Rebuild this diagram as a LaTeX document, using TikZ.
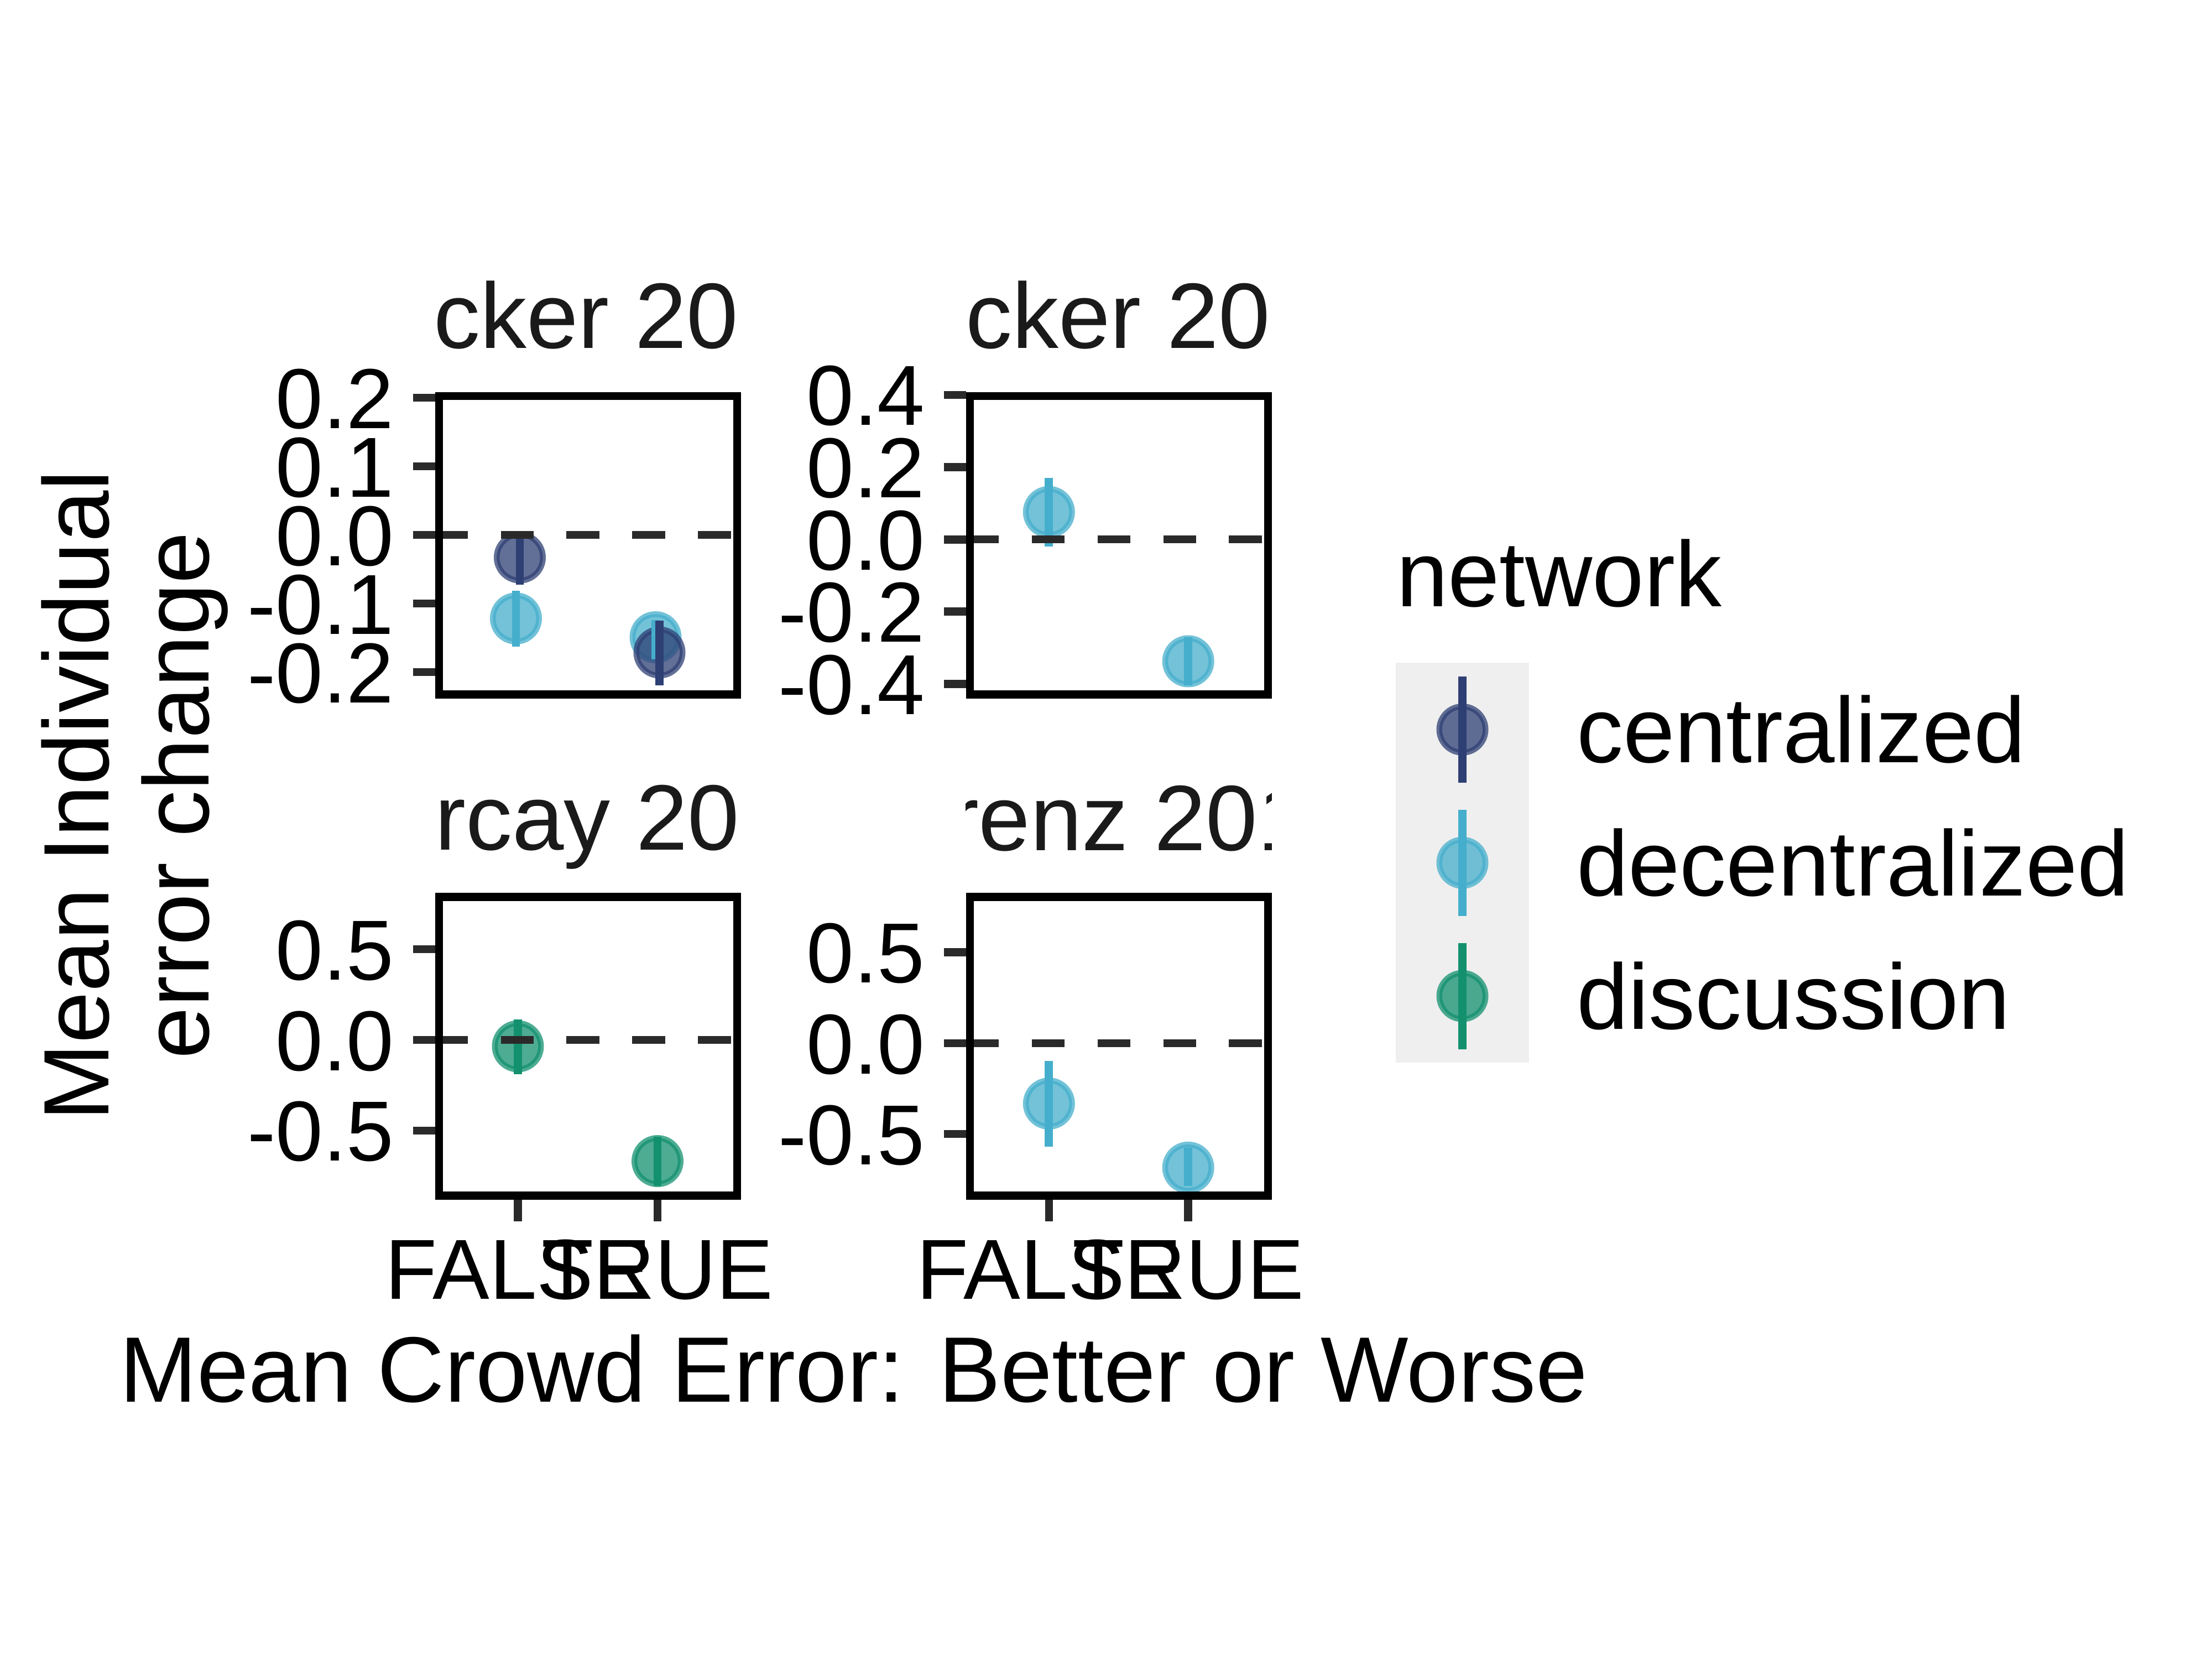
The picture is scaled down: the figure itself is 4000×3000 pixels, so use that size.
\documentclass[tikz,border=0pt]{standalone}
\usepackage{fontspec}
\setmainfont{Liberation Sans}

\definecolor{centcol}{HTML}{2E3F74}
\definecolor{decentcol}{HTML}{45AECC}
\definecolor{disccol}{HTML}{13916F}
\definecolor{tickgray}{HTML}{2A2A2A}
\definecolor{stripgray}{HTML}{1A1A1A}
\definecolor{keygray}{HTML}{EFEFEF}

\newcommand{\ticksize}{\fontsize{15.4}{18}\selectfont}
\newcommand{\labelsize}{\fontsize{16.8}{20}\selectfont}

% point (colour, x, y) and its error bar (colour, x, low, high)
\newcommand{\crowddot}[3]{%
  \fill[#1, opacity=0.75] (#2,#3) circle (4.18pt);
  \draw[#1, opacity=0.75, line width=1.04pt] (#2,#3) circle (4.18pt);
}
\newcommand{\crowdbar}[4]{\draw[#1, errbar] (#2,#3) -- (#2,#4);}

\tikzset{
  panelbox/.style = {draw=black, line width=1.44pt},
  tickmark/.style = {draw=tickgray, line width=1.45pt},
  zeroline/.style = {draw=tickgray, line width=1.4pt, dash pattern=on 5.95pt off 5.95pt},
  ticklabel/.style = {font=\ticksize, inner sep=0pt, anchor=base east},
  xlabel/.style = {font=\ticksize, inner sep=0pt, anchor=base},
  striplabel/.style = {font=\labelsize, text=stripgray, inner sep=0pt, anchor=base west},
  titlelabel/.style = {font=\labelsize, inner sep=0pt, anchor=base},
  keylabel/.style = {font=\labelsize, inner sep=0pt, anchor=base west},
  errbar/.style = {line width=1.47pt}
}

\begin{document}
\begin{tikzpicture}[x=0.1pt, y=-0.1pt]

    \useasboundingbox[fill=white] (0,0) rectangle (4000,3000);

    %% Strip titles (clipped to the panel width)
    \begin{scope}
      \clip (786.5,450) rectangle (1340,705);
      \node[striplabel] (strip1) at (782.5,629) {cker 20};
    \end{scope}
    \begin{scope}
      \clip (1746.5,450) rectangle (2300,705);
      \node[striplabel] (strip2) at (1744.5,629) {cker 20};
    \end{scope}
    \begin{scope}
      \clip (786.5,1350) rectangle (1340,1610);
      \node[striplabel] (strip3) at (784.5,1536) {rcay 20};
    \end{scope}
    \begin{scope}
      \clip (1746.5,1350) rectangle (2299,1610);
      \node[striplabel] (strip4) at (1712,1537) {renz 201};
    \end{scope}

    %% Y axes
    \foreach \v/\y [count=\i] in {0.2/719, 0.1/843, 0.0/967, -0.1/1091, -0.2/1215} {
      \draw[tickmark] (746.5,\y) -- (786.5,\y);
      \node[ticklabel] (ya\i) at (714.5,\y+55) {\v};
    }
    \foreach \v/\y [count=\i] in {0.4/713.8, 0.2/844.4, 0.0/975.4, -0.2/1105.6, -0.4/1236.4} {
      \draw[tickmark] (1706.5,\y) -- (1746.5,\y);
      \node[ticklabel] (yb\i) at (1674.5,\y+55) {\v};
    }
    \foreach \v/\y [count=\i] in {0.5/1716, 0.0/1880, -0.5/2043.8} {
      \draw[tickmark] (746.5,\y) -- (786.5,\y);
      \node[ticklabel] (yc\i) at (714.5,\y+55) {\v};
    }
    \foreach \v/\y [count=\i] in {0.5/1721.6, 0.0/1886, -0.5/2050} {
      \draw[tickmark] (1706.5,\y) -- (1746.5,\y);
      \node[ticklabel] (yd\i) at (1674.5,\y+55) {\v};
    }

    %% X axes
    \foreach \x in {936.5, 1189, 1896.8, 2148.7} {
      \draw[tickmark] (\x,2168.6) -- (\x,2208);
    }
    \node[xlabel] (xf1) at (936.5,2348) {FALSE};
    \node[xlabel] (xt1) at (1189,2348) {TRUE};
    \node[xlabel] (xf2) at (1896.8,2348) {FALSE};
    \node[xlabel] (xt2) at (2148.7,2348) {TRUE};

    %% Points
    \crowddot{decentcol}{933}{1118}
    \crowddot{centcol}{940}{1007.7}
    \crowddot{decentcol}{1185.5}{1152}
    \crowddot{centcol}{1192.5}{1179.5}
    \crowddot{decentcol}{1896.8}{925.6}
    \crowddot{decentcol}{2148.7}{1195.4}
    \crowddot{disccol}{936.5}{1891.5}
    \crowddot{disccol}{1189}{2099}
    \crowddot{decentcol}{1896.8}{1995}
    \crowddot{decentcol}{2148.7}{2110.8}

    % Error bars
    \crowdbar{decentcol}{933}{1068}{1169}
    \crowdbar{centcol}{940}{960}{1057}
    \crowdbar{decentcol}{1185.5}{1120.5}{1192}
    \crowdbar{centcol}{1192.5}{1121.5}{1238.5}
    \crowdbar{decentcol}{1896.8}{863.6}{988.2}
    \crowdbar{decentcol}{2148.7}{1152.3}{1238.5}
    \crowdbar{disccol}{936.5}{1842.8}{1942}
    \crowdbar{disccol}{1189}{2054.7}{2144}
    \crowdbar{decentcol}{1896.8}{1918.3}{2073}
    \crowdbar{decentcol}{2148.7}{2074.8}{2144}

    % Zero lines
    \draw[zeroline] (786.5,967) -- (1340,967);
    \draw[zeroline] (1746.5,975.4) -- (2300,975.4);
    \draw[zeroline] (786.5,1880) -- (1340,1880);
    \draw[zeroline] (1746.5,1886) -- (2300,1886);

    % Panel borders
    \draw[panelbox] (793.7,716.2) rectangle (1332.8,1255.4);
    \draw[panelbox] (1753.7,716.2) rectangle (2292.8,1255.4);
    \draw[panelbox] (793.7,1621.6) rectangle (1332.8,2161.4);
    \draw[panelbox] (1753.7,1621.6) rectangle (2292.8,2161.4);

    %% Axis titles
    \node[titlelabel, rotate=90] (ytitle1) at (196,1438) {Mean Individual};
    \node[titlelabel, rotate=90] (ytitle2) at (377,1438) {error change};
    \node[titlelabel] (xtitle) at (1543.5,2534) {Mean Crowd Error: Better or Worse};

    %% Legend
    \node[keylabel] (legtitle) at (2523,1096.7) {network};
    \fill[keygray] (2524,1198.3) rectangle (2765.4,1921);
    \foreach \c/\y/\t [count=\i] in {centcol/1318.8/centralized, decentcol/1559.7/decentralized, disccol/1800.6/discussion} {
      \crowddot{\c}{2644.5}{\y}
      \draw[\c, errbar] (2644.5,\y-96) -- (2644.5,\y+96);
      \node[keylabel] (key\i) at (2849,\y+60) {\t};
    }

\end{tikzpicture}
\end{document}
